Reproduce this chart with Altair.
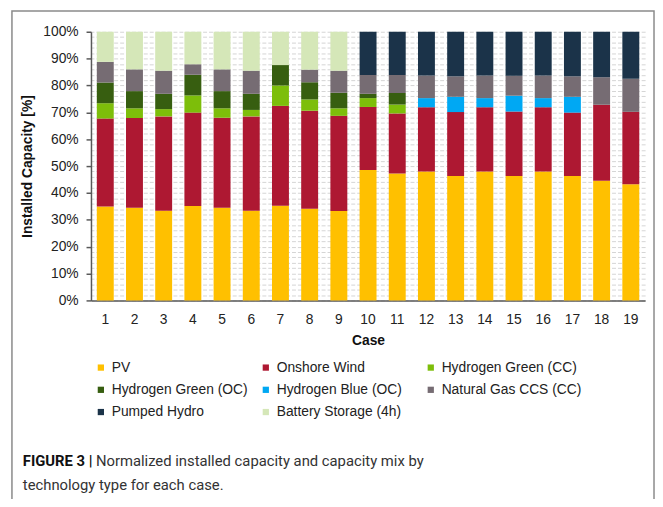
import altair as alt
import pandas as pd

cases = [str(i) for i in range(1, 20)]
techs = ["PV", "Onshore Wind", "Hydrogen Green (CC)", "Hydrogen Green (OC)",
         "Hydrogen Blue (OC)", "Natural Gas CCS (CC)", "Pumped Hydro", "Battery Storage (4h)"]
colors = ["#FFC000", "#AE1832", "#7DBE0A", "#375E10", "#00A8F3", "#766C73", "#1B3349", "#D5E7B8"]

pv      = [35.0, 34.5, 33.4, 35.1, 34.5, 33.4, 35.2, 34.1, 33.3, 48.5, 47.2, 48.0, 46.3, 48.0, 46.3, 48.0, 46.3, 44.5, 43.2]
wind    = [32.7, 33.4, 35.1, 34.8, 33.5, 35.1, 37.2, 36.5, 35.4, 23.5, 22.4, 23.9, 23.8, 23.9, 24.0, 23.9, 23.6, 28.3, 27.0]
h2g_cc  = [5.7, 3.6, 2.7, 6.4, 3.5, 2.4, 7.6, 4.2, 2.8, 3.3, 3.3, 0, 0, 0, 0, 0, 0, 0, 0]
h2g_oc  = [7.7, 6.4, 5.7, 7.7, 6.4, 6.0, 7.6, 6.4, 5.8, 1.6, 4.3, 0, 0, 0, 0, 0, 0, 0, 0]
h2b_oc  = [0, 0, 0, 0, 0, 0, 0, 0, 0, 0, 0, 3.4, 5.7, 3.4, 5.9, 3.4, 5.9, 0, 0]
ng_ccs  = [7.7, 8.1, 8.6, 3.9, 8.1, 8.6, 0, 4.7, 8.2, 7.0, 6.7, 8.4, 7.6, 8.4, 7.4, 8.4, 7.6, 10.3, 12.3]
pumped  = [0, 0, 0, 0, 0, 0, 0, 0, 0, 16.1, 16.1, 16.3, 16.6, 16.3, 16.4, 16.3, 16.6, 16.9, 17.5]
battery = [11.2, 14.0, 14.5, 12.1, 14.0, 14.5, 12.4, 14.1, 14.5, 0, 0, 0, 0, 0, 0, 0, 0, 0, 0]

series = [pv, wind, h2g_cc, h2g_oc, h2b_oc, ng_ccs, pumped, battery]
y_ticks = list(range(0, 101, 10))
grid_ticks = list(range(0, 101, 2))

rows = []
for ti, (t, vals) in enumerate(zip(techs, series)):
    for c, v in zip(cases, vals):
        if v > 0:
            rows.append({"case": c, "tech": t, "order": ti, "value": v})
df = pd.DataFrame(rows)

FONT = "Liberation Sans"
CAP_FONT = "Roboto"

x_enc = alt.X("case:N", sort=cases,
              scale=alt.Scale(paddingInner=0.42, paddingOuter=0.2),
              axis=alt.Axis(title="Case", labelAngle=0, ticks=False, labelPadding=12,
                            labelFontSize=14, labelFont=FONT, labelColor="#222",
                            titleFontSize=14, titleFont=FONT, titleFontWeight="bold",
                            titleColor="#111", titlePadding=8,
                            domainColor="#595959", domainWidth=1.5))

bars = alt.Chart(df).mark_bar().encode(
    x=x_enc,
    y=alt.Y("value:Q", stack="zero", scale=alt.Scale(domain=[0, 100], nice=False),
            axis=alt.Axis(title="Installed Capacity [%]", values=y_ticks,
                          labelExpr="datum.value + '%'", grid=False,
                          tickSize=5, tickColor="#595959", tickWidth=1.5,
                          labelPadding=8, labelFontSize=14, labelFont=FONT, labelColor="#222",
                          titleFontSize=14, titleFont=FONT, titleFontWeight="bold",
                          titleColor="#111", titlePadding=8,
                          domainColor="#595959", domainWidth=1.5)),
    color=alt.Color("tech:N", scale=alt.Scale(domain=techs, range=colors), title=None,
                    legend=alt.Legend(orient="none", legendX=3, legendY=333, columns=3,
                                      direction="horizontal",
                                      gridAlign="all", columnPadding=7, rowPadding=8.5,
                                      symbolType="square", symbolSize=40, symbolStrokeWidth=0,
                                      labelOffset=4, labelFontSize=14, labelFont=FONT,
                                      labelColor="#222")),
    order=alt.Order("order:Q", sort="ascending"),
)

grid_df = pd.DataFrame({"g": grid_ticks})
grid = alt.Chart(grid_df).mark_rule(opacity=0).encode(
    y=alt.Y("g:Q", scale=alt.Scale(domain=[0, 100], nice=False),
            axis=alt.Axis(orient="right", values=grid_ticks, grid=True, gridDash=[4, 2],
                          gridColor="#d4d4d4", gridWidth=1, labels=False, ticks=False,
                          domain=False, title=None)),
)

cap1 = alt.Chart(pd.DataFrame({"t": ["FIGURE 3 |"]})).mark_text(
    align="left", baseline="middle", font=CAP_FONT, fontSize=15,
    fontWeight="bold", color="#111").encode(text="t:N", x=alt.value(-69), y=alt.value(435))
cap2 = alt.Chart(pd.DataFrame({"t": ["Normalized installed capacity and capacity mix by"]})).mark_text(
    align="left", baseline="middle", font=CAP_FONT, fontSize=15,
    color="#333").encode(text="t:N", x=alt.value(5), y=alt.value(435))
cap3 = alt.Chart(pd.DataFrame({"t": ["technology type for each case."]})).mark_text(
    align="left", baseline="middle", font=CAP_FONT, fontSize=15,
    color="#333").encode(text="t:N", x=alt.value(-69), y=alt.value(459))

frame = alt.Chart(pd.DataFrame({"a": [0]})).mark_rect(
    fill="transparent", stroke="#8a8a8a", strokeWidth=1.5).encode(
    x=alt.value(-80), x2=alt.value(570), y=alt.value(-21), y2=alt.value(520))

chart = alt.layer(grid, bars, cap1, cap2, cap3, frame).resolve_scale(
    y="shared").resolve_axis(y="independent").properties(
    width=561, height=272, autosize="none",
    padding={"left": 84, "top": 21, "right": 10, "bottom": 198},
).configure_view(stroke=None)

chart.save("out.html", embed_options={"renderer": "svg", "actions": False})
